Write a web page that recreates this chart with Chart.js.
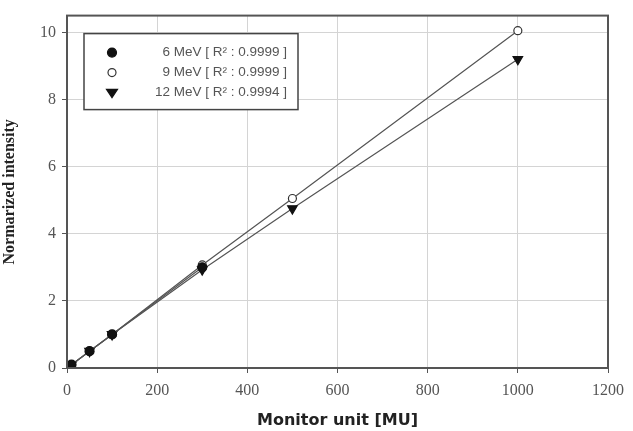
<!DOCTYPE html>
<html>
<head>
<meta charset="utf-8">
<script src="https://cdn.jsdelivr.net/npm/chart.js@4/dist/chart.umd.min.js"></script>
<style>
  html, body { margin: 0; padding: 0; background: #fff; }
  #wrap { width: 633px; height: 431px; }
</style>
</head>
<body>
<div id="wrap"><canvas id="chart" width="633" height="431"></canvas></div>
<script>
/* ── 数据 ── */
const monitorUnits = [1, 5, 10, 50, 100, 300, 500, 1000];
const mev6 = [0.01, 0.05, 0.1, 0.5, 1.0, 3.0];
const mev9 = [0.01, 0.05, 0.1, 0.5, 1.0, 3.07, 5.05, 10.05];
const mev12 = [0.01, 0.05, 0.1, 0.5, 1.0, 2.93, 4.75, 9.2];
const seriesLabels = ['6 MeV [ R\u00b2 : 0.9999 ]', '9 MeV [ R\u00b2 : 0.9999 ]', '12 MeV [ R\u00b2 : 0.9994 ]'];
const xTicks = [0, 200, 400, 600, 800, 1000, 1200];
const yTicks = [0, 2, 4, 6, 8, 10];

const toPoints = vals => vals.map((v, i) => ({ x: monitorUnits[i], y: v }));

const markers = [
    { style: 'circle', radius: 4.5, fill: '#111', stroke: '#111', rotation: 0 },
    { style: 'circle', radius: 4, fill: '#fff', stroke: '#333', rotation: 0 },
    { style: 'triangle', radius: 5.5, fill: '#111', stroke: '#111', rotation: 180 },
];

// 边框 + 图例
const frameLegend = {
    id: 'frameLegend',
    afterDatasetsDraw(chart) {
        const { ctx, chartArea: a } = chart;
        ctx.save();
        ctx.strokeStyle = '#555';
        ctx.lineWidth = 2;
        ctx.strokeRect(a.left, a.top, a.right - a.left, a.bottom - a.top);

        // 图例框
        const bx = a.left + 17, by = a.top + 18, bw = 214, bh = 76;
        ctx.fillStyle = '#fff';
        ctx.fillRect(bx, by, bw, bh);
        ctx.strokeStyle = '#444';
        ctx.lineWidth = 1.5;
        ctx.strokeRect(bx, by, bw, bh);

        ctx.font = '13.5px "Liberation Sans", Arial, sans-serif';
        ctx.textAlign = 'right';
        ctx.textBaseline = 'middle';
        seriesLabels.forEach((label, i) => {
            const cy = by + 19 + i * 20;
            const m = markers[i];
            const cx = bx + 28;
            ctx.beginPath();
            if (m.style === 'circle') {
                ctx.arc(cx, cy, m.radius, 0, Math.PI * 2);
            } else {
                const r = m.radius;
                ctx.moveTo(cx - r, cy - r * 0.6);
                ctx.lineTo(cx + r, cy - r * 0.6);
                ctx.lineTo(cx, cy + r * 0.9);
                ctx.closePath();
            }
            ctx.fillStyle = m.fill;
            ctx.fill();
            ctx.strokeStyle = m.stroke;
            ctx.lineWidth = 1.2;
            ctx.stroke();
            ctx.fillStyle = '#555';
            ctx.fillText(label, bx + bw - 11, cy);
        });
        ctx.restore();
    },
};

const makeSet = (label, vals, m) => ({
    label,
    data: toPoints(vals),
    showLine: true,
    borderColor: '#555',
    borderWidth: 1.2,
    pointStyle: m.style,
    pointRadius: m.radius,
    pointRotation: m.rotation,
    pointBackgroundColor: m.fill,
    pointBorderColor: m.stroke,
    pointBorderWidth: 1.2,
});

const serifTicks = { family: '"Liberation Serif", "Times New Roman", serif', size: 16 };

new Chart(document.getElementById('chart'), {
    type: 'scatter',
    data: {
        datasets: [
            makeSet(seriesLabels[0], mev6, markers[0]),
            makeSet(seriesLabels[1], mev9, markers[1]),
            makeSet(seriesLabels[2], mev12, markers[2]),
        ],
    },
    options: {
        responsive: false,
        animation: false,
        layout: { padding: { top: 11, right: 25, left: 0, bottom: 0 } },
        plugins: { legend: { display: false }, tooltip: { enabled: false } },
        scales: {
            x: {
                type: 'linear',
                min: 0,
                max: 1200,
                afterBuildTicks: s => { s.ticks = xTicks.map(v => ({ value: v })); },
                afterFit: s => { s.height = 63; },
                grid: { color: '#d4d4d4', tickColor: '#555', tickLength: 5 },
                border: { display: false },
                ticks: {
                    color: '#555',
                    padding: 8,
                    font: serifTicks,
                    callback: v => String(v),
                },
                title: {
                    display: true,
                    text: 'Monitor unit [MU]',
                    color: '#222',
                    padding: { top: 12, bottom: 1 },
                    font: { family: '"DejaVu Sans", Verdana, sans-serif', size: 16, weight: 'bold' },
                },
            },
            y: {
                type: 'linear',
                min: 0,
                max: 10.5,
                afterBuildTicks: s => { s.ticks = yTicks.map(v => ({ value: v })); },
                afterFit: s => { s.width = 67; },
                grid: { color: '#d4d4d4', tickColor: '#555', tickLength: 5 },
                border: { display: false },
                ticks: {
                    color: '#555',
                    padding: 6,
                    font: serifTicks,
                    callback: v => String(v),
                },
                title: {
                    display: true,
                    text: 'Normarized intensity',
                    color: '#222',
                    padding: { top: 0, bottom: 12 },
                    font: { family: '"Liberation Serif", "Times New Roman", serif', size: 16, weight: 'bold' },
                },
            },
        },
    },
    plugins: [frameLegend],
});
</script>
</body>
</html>
